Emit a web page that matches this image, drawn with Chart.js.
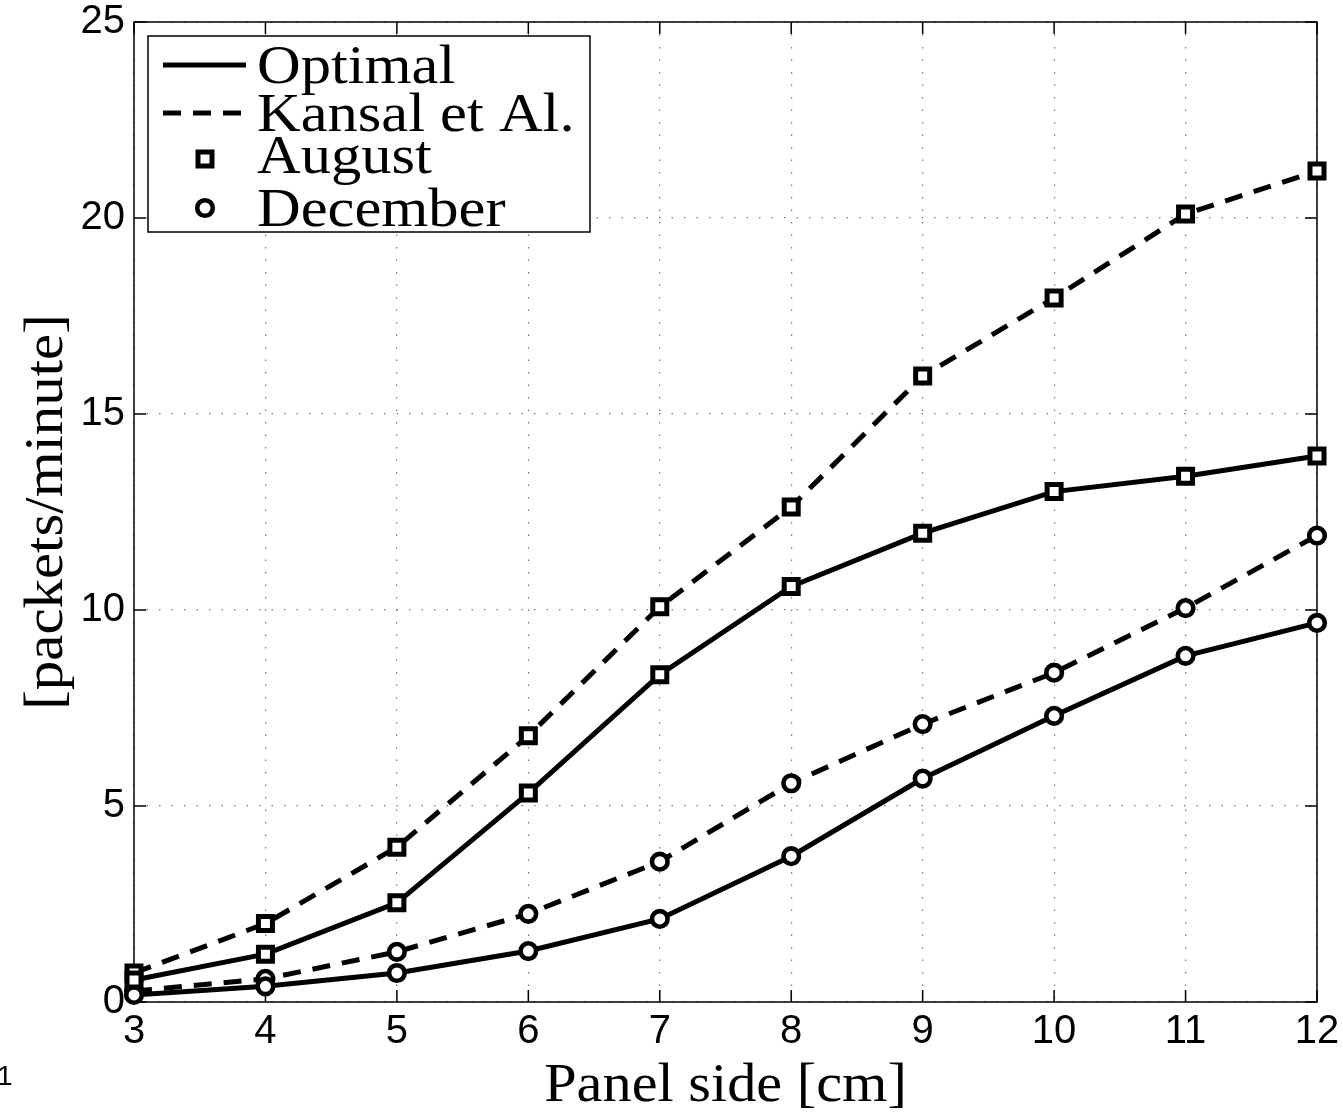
<!DOCTYPE html>
<html lang="en">
<head>
    <meta charset="UTF-8">
    <title>Packets per minute vs panel side</title>
    <script src="https://cdn.jsdelivr.net/npm/chart.js"></script>
    <style>
        html, body { margin: 0; padding: 0; background: #fff; }
        #wrap { width: 1343px; height: 1113px; }
    </style>
</head>
<body>
    <div id="wrap"><canvas id="grafico" width="1343" height="1113"></canvas></div>

<script>
    // panel side [cm]
    const xValues = [3, 4, 5, 6, 7, 8, 9, 10, 11, 12];
    // packets/minute
    const optimalAugust = [0.56, 1.22, 2.53, 5.33, 8.35, 10.6, 11.96, 13.02, 13.41, 13.93];
    const kansalAugust = [0.74, 2.0, 3.95, 6.79, 10.08, 12.63, 15.97, 17.96, 20.1, 21.2];
    const optimalDecember = [0.18, 0.4, 0.74, 1.3, 2.12, 3.72, 5.7, 7.3, 8.83, 9.67];
    const kansalDecember = [0.28, 0.59, 1.28, 2.25, 3.58, 5.58, 7.09, 8.4, 10.05, 11.9];
    const yTicks = [0, 5, 10, 15, 20, 25];

    const legendItems = ['Optimal', 'Kansal et Al.', 'August', 'December'];
    const xTitle = 'Panel side [cm]';
    const yTitle = '[packets/minute]';

    const serif = '"Liberation Serif", "Times New Roman", serif';
    const sans = '"Liberation Sans", Arial, sans-serif';
    const dashed = [18, 12];

    function serie(valores, dash, estilo) {
        return {
            data: valores.map((v, i) => ({ x: xValues[i], y: v })),
            borderColor: '#000',
            borderWidth: 5,
            borderDash: dash,
            pointStyle: estilo,
            pointRadius: estilo === 'rect' ? 9.9 : 7.8,
            pointBorderWidth: estilo === 'rect' ? 5 : 4.6,
            pointBorderColor: '#000',
            pointBackgroundColor: '#fff',
            tension: 0,
            clip: false
        };
    }

    function desenharMarcador(ctx, estilo, x, y) {
        ctx.save();
        ctx.strokeStyle = '#000';
        ctx.fillStyle = '#fff';
        ctx.setLineDash([]);
        ctx.beginPath();
        if (estilo === 'rect') {
            ctx.lineWidth = 5;
            ctx.rect(x - 7, y - 7, 14, 14);
        } else {
            ctx.lineWidth = 4.6;
            ctx.arc(x, y, 7.8, 0, Math.PI * 2);
        }
        ctx.fill();
        ctx.stroke();
        ctx.restore();
    }

    function textoLargo(ctx, texto, x, y, esticar) {
        ctx.save();
        ctx.translate(x, y);
        ctx.scale(esticar, 1);
        ctx.fillText(texto, 0, 0);
        ctx.restore();
    }

    // box, inner tick marks
    const moldura = {
        id: 'moldura',
        beforeDatasetsDraw(chart) {
            const { ctx, chartArea: a, scales } = chart;
            ctx.save();
            ctx.strokeStyle = '#000';
            ctx.lineWidth = 1.5;
            ctx.setLineDash([]);
            ctx.strokeRect(a.left, a.top, a.right - a.left, a.bottom - a.top);
            ctx.beginPath();
            xValues.forEach(v => {
                const px = scales.x.getPixelForValue(v);
                ctx.moveTo(px, a.bottom); ctx.lineTo(px, a.bottom - 12);
                ctx.moveTo(px, a.top); ctx.lineTo(px, a.top + 12);
            });
            yTicks.forEach(v => {
                const py = scales.y.getPixelForValue(v);
                ctx.moveTo(a.left, py); ctx.lineTo(a.left + 12, py);
                ctx.moveTo(a.right, py); ctx.lineTo(a.right - 12, py);
            });
            ctx.stroke();
            ctx.restore();
        },
        afterDraw(chart) {
            const { ctx, chartArea: a } = chart;
            ctx.save();
            ctx.fillStyle = '#000';

            // axis titles
            ctx.font = '55px ' + serif;
            ctx.textBaseline = 'alphabetic';
            ctx.textAlign = 'center';
            textoLargo(ctx, xTitle, (a.left + a.right) / 2, 1101, 1.06);
            ctx.save();
            ctx.translate(62, (a.top + a.bottom) / 2);
            ctx.rotate(-Math.PI / 2);
            textoLargo(ctx, yTitle, 0, 0, 1.07);
            ctx.restore();

            // stray page number at the bottom left
            ctx.font = '28px ' + sans;
            ctx.textAlign = 'left';
            ctx.fillText('1', -3, 1085);

            // legend
            ctx.fillStyle = '#fff';
            ctx.fillRect(148, 36, 442, 196);
            ctx.strokeStyle = '#000';
            ctx.lineWidth = 1.5;
            ctx.strokeRect(148, 36, 442, 196);

            ctx.lineWidth = 5;
            ctx.beginPath();
            ctx.moveTo(163, 65); ctx.lineTo(246, 65);
            ctx.stroke();
            ctx.setLineDash(dashed);
            ctx.beginPath();
            ctx.moveTo(163, 113); ctx.lineTo(246, 113);
            ctx.stroke();
            ctx.setLineDash([]);
            desenharMarcador(ctx, 'rect', 205, 159);
            desenharMarcador(ctx, 'circle', 205, 208);

            ctx.fillStyle = '#000';
            ctx.font = '55px ' + serif;
            ctx.textAlign = 'left';
            const linhas = [83, 131, 173, 226];
            legendItems.forEach((t, i) => textoLargo(ctx, t, 257, linhas[i], 1.1));
            ctx.restore();
        }
    };

    new Chart(document.getElementById('grafico').getContext('2d'), {
        type: 'line',
        data: {
            datasets: [
                serie(optimalAugust, [], 'rect'),
                serie(kansalAugust, dashed, 'rect'),
                serie(optimalDecember, [], 'circle'),
                serie(kansalDecember, dashed, 'circle')
            ]
        },
        options: {
            responsive: false,
            animation: false,
            events: [],
            layout: { padding: { left: 0, right: 26, top: 22, bottom: 0 } },
            plugins: {
                legend: { display: false },
                tooltip: { enabled: false }
            },
            scales: {
                x: {
                    type: 'linear',
                    min: 3,
                    max: 12,
                    afterFit: s => {
                        s.height = 111;
                        s.paddingLeft = 0;
                        s.paddingRight = 0;
                    },
                    afterBuildTicks: s => { s.ticks = xValues.map(v => ({ value: v })); },
                    ticks: {
                        color: '#000',
                        font: { family: sans, size: 40, lineHeight: 1 },
                        padding: 10,
                        maxRotation: 0
                    },
                    grid: { color: '#777', lineWidth: 1.2, drawTicks: false },
                    border: { display: false, dash: [1.5, 11] }
                },
                y: {
                    min: 0,
                    max: 25,
                    afterFit: s => {
                        s.width = 134;
                        s.paddingTop = 0;
                        s.paddingBottom = 0;
                    },
                    afterBuildTicks: s => { s.ticks = yTicks.map(v => ({ value: v })); },
                    ticks: {
                        color: '#000',
                        font: { family: sans, size: 40, lineHeight: 1 },
                        padding: 9
                    },
                    grid: { color: '#777', lineWidth: 1.2, drawTicks: false },
                    border: { display: false, dash: [1.5, 11] }
                }
            }
        },
        plugins: [moldura]
    });
</script>
</body>
</html>
